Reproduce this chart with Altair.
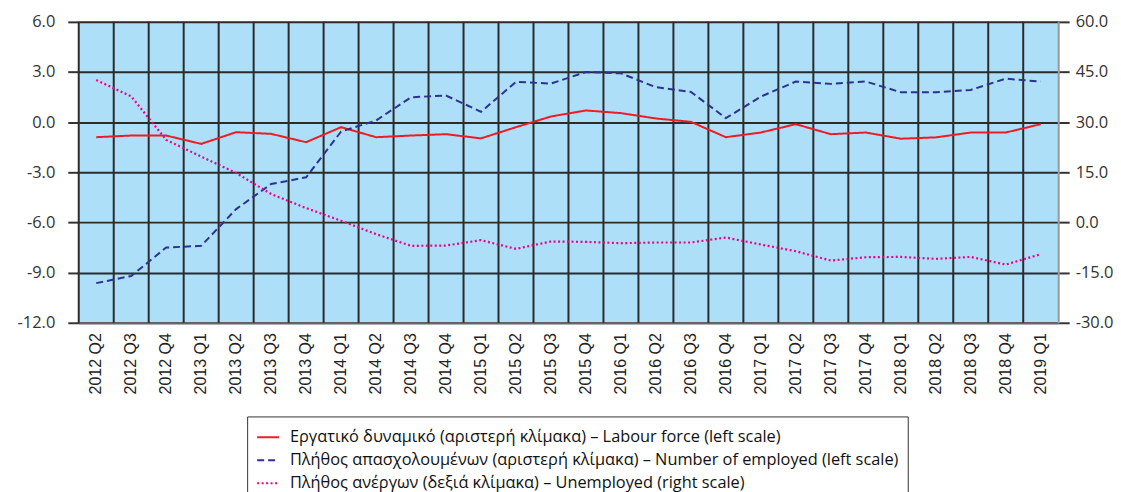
import altair as alt
import pandas as pd

categories = [
    "2012 Q2", "2012 Q3", "2012 Q4",
    "2013 Q1", "2013 Q2", "2013 Q3", "2013 Q4",
    "2014 Q1", "2014 Q2", "2014 Q3", "2014 Q4",
    "2015 Q1", "2015 Q2", "2015 Q3", "2015 Q4",
    "2016 Q1", "2016 Q2", "2016 Q3", "2016 Q4",
    "2017 Q1", "2017 Q2", "2017 Q3", "2017 Q4",
    "2018 Q1", "2018 Q2", "2018 Q3", "2018 Q4",
    "2019 Q1",
]

labour_force = [
    -0.9, -0.8, -0.8,
    -1.3, -0.6, -0.7, -1.2,
    -0.3, -0.9, -0.8, -0.72,
    -0.97, -0.3, 0.34, 0.7,
    0.54, 0.22, 0.02, -0.9,
    -0.62, -0.12, -0.72, -0.62,
    -0.99, -0.91, -0.62, -0.62,
    -0.12,
]

employed = [
    -9.63, -9.2, -7.5,
    -7.4, -5.2, -3.7, -3.3,
    -0.56, 0.1, 1.49, 1.59,
    0.62, 2.41, 2.31, 3.0,
    2.92, 2.09, 1.81, 0.24,
    1.53, 2.43, 2.29, 2.43,
    1.79, 1.79, 1.93, 2.6,
    2.43,
]

unemployed = [
    42.6, 37.7, 24.7,
    19.7, 14.8, 8.5, 4.3,
    0.5, -3.5, -7.0, -6.9,
    -5.3, -7.9, -5.7, -5.8,
    -6.2, -6.0, -6.0, -4.5,
    -6.6, -8.6, -11.4, -10.4,
    -10.3, -10.9, -10.3, -12.6,
    -9.5,
]

series_names = [
    "Εργατικό δυναμικό (αριστερή κλίμακα) – Labour force (left scale)",
    "Πλήθος απασχολουμένων (αριστερή κλίμακα) – Number of employed (left scale)",
    "Πλήθος ανέργων (δεξιά κλίμακα) – Unemployed (right scale)",
]
series_colors = ["#ED1C24", "#2E3192", "#EC008C"]
series_dashes = [[1, 0], [7, 4], [2, 2.5]]

left_ticks = [-12, -9, -6, -3, 0, 3, 6]
right_ticks = [-30, -15, 0, 15, 30, 45, 60]

n = len(categories)
left_df = pd.DataFrame({
    "quarter": categories * 2,
    "value": labour_force + employed,
    "series": [series_names[0]] * n + [series_names[1]] * n,
})
right_df = pd.DataFrame({
    "quarter": categories,
    "value": unemployed,
    "series": [series_names[2]] * n,
})
cat_df = pd.DataFrame({"quarter": categories})

label_expr = "replace(format(datum.value, '.1f'), '\u2212', '-')"

x_scale = alt.Scale(type="band", domain=categories, paddingInner=0, paddingOuter=0)

x_enc = alt.X(
    "quarter:N", sort=categories, title=None, scale=x_scale, bandPosition=0.5,
    axis=alt.Axis(
        labelAngle=270, labelFont="Liberation Sans", labelFontSize=16,
        labelColor="#222", ticks=False, grid=False, domainColor="#666",
        domainWidth=2, labelPadding=10,
    ),
)

legend = alt.Legend(
    title=None, orient="none", legendX=169, legendY=396, direction="vertical",
    symbolType="stroke", symbolStrokeWidth=2, symbolSize=480,
    labelFont="Open Sans", labelFontSize=16.4, labelColor="#111",
    labelLimit=900, strokeColor="#333", padding=9, fillColor="white",
    rowPadding=2, labelOffset=10,
)

color_enc = alt.Color(
    "series:N", scale=alt.Scale(domain=series_names, range=series_colors),
    legend=legend,
)
dash_enc = alt.StrokeDash(
    "series:N", scale=alt.Scale(domain=series_names, range=series_dashes),
    legend=legend,
)

vgrid = alt.Chart(cat_df).mark_rule(color="#2b2b2b", strokeWidth=2).encode(
    x=alt.X("quarter:N", sort=categories, scale=x_scale, bandPosition=0, title=None),
)

left_lines = alt.Chart(left_df).mark_line(strokeWidth=2).encode(
    x=x_enc,
    y=alt.Y(
        "value:Q", title=None,
        scale=alt.Scale(domain=[-12, 6], nice=False, zero=False),
        axis=alt.Axis(
            orient="left", values=left_ticks, labelExpr=label_expr, grid=True,
            gridColor="#2b2b2b", gridWidth=2, tickSize=11, tickColor="#333",
            tickWidth=2, domain=False, labelPadding=13, labelFont="Open Sans",
            labelFontSize=16.5, labelColor="#333",
        ),
    ),
    color=color_enc,
    strokeDash=dash_enc,
)

right_line = alt.Chart(right_df).mark_line(strokeWidth=2.2).encode(
    x=x_enc,
    y=alt.Y(
        "value:Q", title=None,
        scale=alt.Scale(domain=[-30, 60], nice=False, zero=False),
        axis=alt.Axis(
            orient="right", values=right_ticks, labelExpr=label_expr, grid=False,
            tickSize=11, tickColor="#333", tickWidth=2, domain=True,
            domainColor="#999", domainWidth=2, labelPadding=6,
            labelFont="Open Sans", labelFontSize=16.5, labelColor="#333",
        ),
    ),
    color=color_enc,
    strokeDash=dash_enc,
)

chart = alt.layer(vgrid, left_lines, right_line).resolve_scale(
    y="independent"
).properties(
    width=983, height=302,
    padding={"left": 9, "top": 5, "right": 0, "bottom": 5},
).configure(
    background="white",
).configure_view(
    fill="#ADDFF8", strokeWidth=0,
)

chart.save("out.html", embed_options={"renderer": "svg", "actions": False})
